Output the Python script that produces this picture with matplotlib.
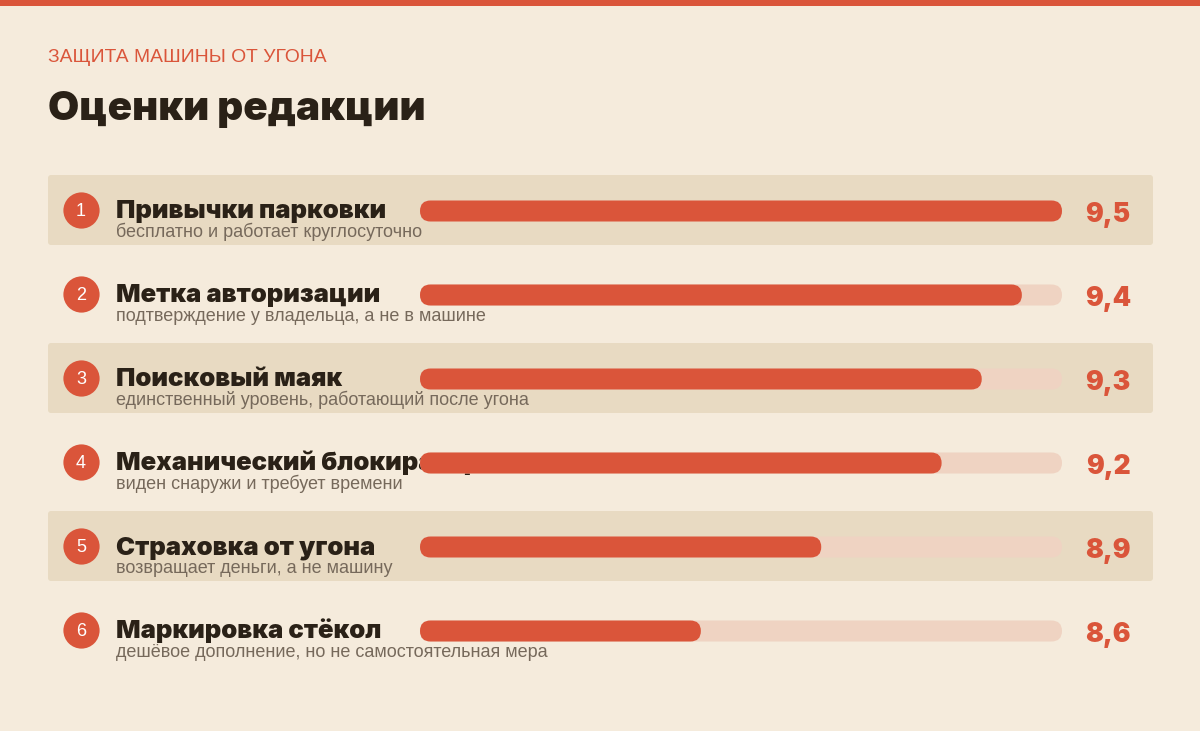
import matplotlib.pyplot as plt
from matplotlib.patches import FancyBboxPatch, Rectangle
from matplotlib.transforms import blended_transform_factory

# data
ranks = [1, 2, 3, 4, 5, 6]
names = ['Привычки парковки', 'Метка авторизации', 'Поисковый маяк',
         'Механический блокиратор', 'Страховка от угона', 'Маркировка стёкол']
notes = ['бесплатно и работает круглосуточно',
         'подтверждение у владельца, а не в машине',
         'единственный уровень, работающий после угона',
         'виден снаружи и требует времени',
         'возвращает деньги, а не машину',
         'дешёвое дополнение, но не самостоятельная мера']
scores = [9.5, 9.4, 9.3, 9.2, 8.9, 8.6]
labels = ['9,5', '9,4', '9,3', '9,2', '8,9', '8,6']
x_min, x_max = 7.9, 9.5

BG = '#F5EBDC'
BAND = '#E8DAC2'
RED = '#DA553A'
TRACK = '#EFD3C2'
DARK = '#2A2117'
GREY = '#76695B'

plt.rcParams['font.family'] = ['Liberation Sans', 'DejaVu Sans']
HEAVY = dict(family=['Inter', 'DejaVu Sans'], fontweight=900)

W, H = 1200, 731
fig = plt.figure(figsize=(12, 7.31), dpi=100)
fig.patch.set_facecolor(BG)

# bar axes: x 420..1062 px, rows 84 px apart, first row centre at 210 px
row_h = 84
top, n = 168, len(names)
ax = fig.add_axes([420 / W, 1 - (top + n * row_h) / H, 642 / W, n * row_h / H])
ax.set_xlim(x_min, x_max)
ax.set_ylim(n - 0.5, -0.5)
ax.axis('off')
ax.patch.set_alpha(0)

ypos = list(range(n))
trans = blended_transform_factory(fig.transFigure, ax.transData)

# top stripe
fig.add_artist(Rectangle((0, 1 - 6 / H), 1, 6 / H, transform=fig.transFigure,
                         color=RED, lw=0))

fig.text(48 / W, 1 - 62 / H, 'ЗАЩИТА МАШИНЫ ОТ УГОНА', color=RED, fontsize=13.9,
         va='baseline')
fig.text(48 / W, 1 - 120 / H, 'Оценки редакции', color=DARK, fontsize=29,
         va='baseline', **HEAVY)

# alternating bands
for i in ypos:
    if i % 2 == 0:
        band = FancyBboxPatch((48 / W, i - 35 / row_h), 1105 / W, 70 / row_h,
                              boxstyle='round,pad=0,rounding_size=%f' % (3 / W),
                              mutation_aspect=W / row_h, transform=trans,
                              fc=BAND, ec='none', zorder=0, clip_on=False)
        ax.add_patch(band)

# rank circles, names, notes
ax.scatter([81 / W] * n, ypos, s=680, color=RED, transform=trans, zorder=3,
           clip_on=False, lw=0)
for i, r in enumerate(ranks):
    ax.text(81 / W, i + 2 / row_h, str(r), transform=trans, color='white',
            fontsize=13, ha='center', va='center', zorder=4)
    ax.text(116 / W, i + 8 / row_h, names[i], transform=trans, color=DARK,
            fontsize=18.5, va='baseline', zorder=1, **HEAVY)
    ax.text(116 / W, i + 27 / row_h, notes[i], transform=trans, color=GREY,
            fontsize=13, va='baseline', zorder=1)
    ax.text(1108 / W, i + 5 / row_h, labels[i], transform=trans, color=RED,
            fontsize=19, ha='center', va='center', zorder=4, **HEAVY)

# bars with rounded ends
bar_h = 21 / row_h
px_per_x = 642 / (x_max - x_min)
track = ax.barh([y + 1 / row_h for y in ypos], [x_max - x_min] * n, left=x_min,
                height=bar_h)
fill = ax.barh([y + 1 / row_h for y in ypos], [s - x_min for s in scores],
               left=x_min, height=bar_h)
for bars, color, z in [(track, TRACK, 2), (fill, RED, 3)]:
    for rect in bars:
        x0, y0 = rect.get_xy()
        p = FancyBboxPatch((x0, y0), rect.get_width(), rect.get_height(),
                           boxstyle='round,pad=0,rounding_size=%f' % (10.5 / px_per_x),
                           mutation_aspect=px_per_x / row_h,
                           fc=color, ec='none', zorder=z, clip_on=False)
        rect.remove()
        ax.add_patch(p)

fig.savefig('out.png', dpi=100, facecolor=BG)
